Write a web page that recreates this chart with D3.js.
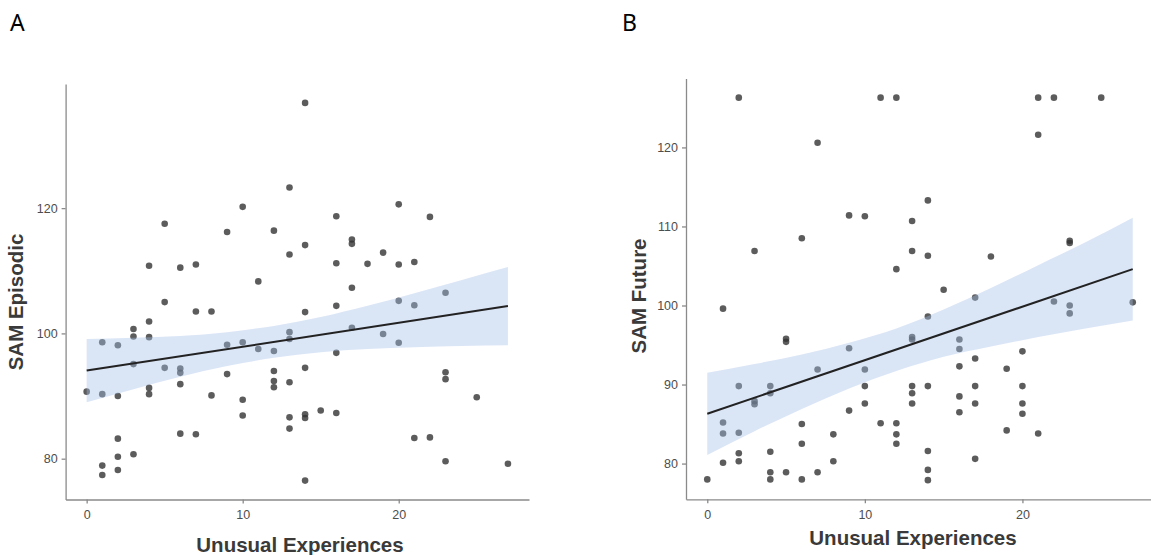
<!DOCTYPE html>
<html>
<head>
<meta charset="utf-8">
<script src="https://cdn.jsdelivr.net/npm/d3@7"></script>
<style>
  body { margin: 0; background: #fff; }
  svg { display: block; font-family: "Liberation Sans", Arial, sans-serif; }
  .axis path, .axis line { stroke: #8a8a8a; stroke-width: 1.3; }
  .axis text { fill: #4d4d4d; font-size: 12.5px; }
  .axis-title { fill: #3a3a3a; font-size: 20.5px; font-weight: bold; }
  .panel-tag { fill: #000; font-size: 23px; font-family: "Noto Sans", sans-serif; }
</style>
</head>
<body>
<div id="chart"></div>
<script>
// Unusual Experiences vs SAM scores, two panels

// panel A: [unusual experiences, SAM episodic]
const episodicPoints = [
  [0, 90.7],
  [1, 98.6], [1, 90.3], [1, 78.9], [1, 77.4],
  [2, 98.1], [2, 90.0], [2, 83.2], [2, 80.3], [2, 78.2],
  [3, 100.7], [3, 99.5], [3, 95.1], [3, 80.7],
  [4, 110.8], [4, 101.9], [4, 99.4], [4, 91.3], [4, 90.3],
  [5, 117.5], [5, 105.0], [5, 94.5],
  [6, 110.5], [6, 94.4], [6, 93.7], [6, 91.9], [6, 84.0],
  [7, 111.0], [7, 103.5], [7, 83.9],
  [8, 103.5], [8, 90.1],
  [9, 116.2], [9, 98.2], [9, 93.5],
  [10, 120.2], [10, 98.6], [10, 89.4], [10, 86.9],
  [11, 108.3], [11, 97.5],
  [12, 116.4], [12, 97.2], [12, 94.0], [12, 92.4], [12, 91.4],
  [13, 123.3], [13, 112.6], [13, 100.2], [13, 99.1], [13, 92.2], [13, 86.6], [13, 84.8],
  [14, 136.8], [14, 114.1], [14, 103.4], [14, 94.5], [14, 87.1], [14, 86.5], [14, 76.5],
  [15, 87.7],
  [16, 118.7], [16, 111.2], [16, 104.4], [16, 96.9], [16, 87.3],
  [17, 115.0], [17, 114.3], [17, 107.3], [17, 100.9],
  [18, 111.1],
  [19, 112.9], [19, 99.9],
  [20, 120.6], [20, 111.0], [20, 105.2], [20, 98.5],
  [21, 111.4], [21, 104.5], [21, 83.3],
  [22, 118.6], [22, 83.4],
  [23, 106.5], [23, 93.8], [23, 92.7], [23, 79.6],
  [25, 89.8],
  [27, 79.2]
];

// panel B: [unusual experiences, SAM future]
const futurePoints = [
  [0, 78.0],
  [1, 99.6], [1, 85.2], [1, 83.8], [1, 80.1],
  [2, 126.3], [2, 89.8], [2, 83.9], [2, 81.3], [2, 80.3],
  [3, 106.9], [3, 87.9], [3, 87.5],
  [4, 89.8], [4, 88.9], [4, 81.5], [4, 78.9], [4, 78.0],
  [5, 95.8], [5, 95.4], [5, 78.9],
  [6, 108.5], [6, 85.0], [6, 82.5], [6, 78.0],
  [7, 120.6], [7, 91.9], [7, 78.9],
  [8, 83.7], [8, 80.3],
  [9, 111.4], [9, 94.6], [9, 86.7],
  [10, 111.3], [10, 91.9], [10, 89.8], [10, 87.6],
  [11, 126.3], [11, 85.1],
  [12, 126.3], [12, 104.6], [12, 85.1], [12, 83.7], [12, 82.5],
  [13, 110.7], [13, 106.9], [13, 96.0], [13, 95.7], [13, 89.8], [13, 88.9], [13, 87.6],
  [14, 113.3], [14, 106.3], [14, 98.6], [14, 89.8], [14, 81.6], [14, 79.2], [14, 77.9],
  [15, 102.0],
  [16, 95.7], [16, 94.5], [16, 92.3], [16, 88.5], [16, 86.5],
  [17, 101.0], [17, 93.3], [17, 89.8], [17, 87.6], [17, 80.6],
  [18, 106.2],
  [19, 92.0], [19, 84.2],
  [20, 94.2], [20, 89.8], [20, 87.6], [20, 86.3],
  [21, 126.3], [21, 121.6], [21, 83.8],
  [22, 126.3], [22, 100.5],
  [23, 108.2], [23, 107.9], [23, 100.0], [23, 99.0],
  [25, 126.3],
  [27, 100.4]
];

// regression lines and confidence bands
const fitX = [0, 27];
const episodicFit = [94.07, 104.36];
const futureFit = [86.3, 104.6];

const bandX = [0, 3, 6, 9, 12, 15, 18, 21, 24, 27];
const episodicLower = [89.0, 91.1, 93.1, 94.8, 96.1, 97.0, 97.5, 97.8, 98.0, 98.1];
const episodicUpper = [99.1, 99.3, 99.6, 100.2, 101.2, 102.6, 104.4, 106.4, 108.5, 110.6];
const futureLower = [81.1, 84.1, 86.9, 89.5, 91.7, 93.5, 94.8, 96.0, 97.1, 98.1];
const futureUpper = [91.5, 92.6, 93.8, 95.3, 97.1, 99.5, 102.2, 105.1, 108.0, 111.1];

const xTicks = [0, 10, 20];
const episodicTicks = [80, 100, 120];
const futureTicks = [80, 90, 100, 110, 120];

const W = 1151, H = 555;

const svg = d3.select('#chart')
  .append('svg')
  .attr('width', W)
  .attr('height', H);

svg.append('rect').attr('width', W).attr('height', H).attr('fill', '#fff');

// ggplot style 5% padding on each side
function padded(values) {
  const [lo, hi] = d3.extent(values);
  const pad = (hi - lo) * 0.05;
  return [lo - pad, hi + pad];
}

function drawPanel(opts) {
  const x = d3.scaleLinear()
    .domain(padded(opts.points.map(d => d[0])))
    .range([opts.left, opts.right]);

  const y = d3.scaleLinear()
    .domain(padded(opts.points.map(d => d[1])))
    .range([opts.bottom, opts.top]);

  const g = svg.append('g');

  g.append('g')
    .selectAll('circle')
    .data(opts.points)
    .enter()
    .append('circle')
    .attr('cx', d => x(d[0]))
    .attr('cy', d => y(d[1]))
    .attr('r', 3.3)
    .attr('fill', '#333')
    .attr('fill-opacity', 0.8);

  const band = bandX.map((v, i) => ({ x: v, lo: opts.lower[i], hi: opts.upper[i] }));
  const area = d3.area()
    .x(d => x(d.x))
    .y0(d => y(d.lo))
    .y1(d => y(d.hi))
    .curve(d3.curveMonotoneX);

  g.append('path')
    .datum(band)
    .attr('d', area)
    .attr('fill', '#a2bee8')
    .attr('fill-opacity', 0.4);

  g.append('line')
    .attr('x1', x(fitX[0]))
    .attr('y1', y(opts.fit[0]))
    .attr('x2', x(fitX[1]))
    .attr('y2', y(opts.fit[1]))
    .attr('stroke', '#222')
    .attr('stroke-width', 2);

  g.append('g')
    .attr('class', 'axis')
    .attr('transform', `translate(0,${opts.bottom})`)
    .call(d3.axisBottom(x).tickValues(xTicks).tickSize(4).tickSizeOuter(0).tickPadding(7));

  g.append('g')
    .attr('class', 'axis')
    .attr('transform', `translate(${opts.left},0)`)
    .call(d3.axisLeft(y).tickValues(opts.yTicks).tickSize(4).tickSizeOuter(0).tickPadding(4));

  g.selectAll('.axis text').attr('font-family', '"Liberation Sans", Arial, sans-serif');

  g.append('text')
    .attr('class', 'axis-title')
    .attr('x', opts.xTitleX)
    .attr('y', opts.xTitleY)
    .attr('text-anchor', 'middle')
    .text('Unusual Experiences');

  g.append('text')
    .attr('class', 'axis-title')
    .attr('transform', `translate(${opts.yTitleX},${opts.yTitleY}) rotate(-90)`)
    .attr('text-anchor', 'middle')
    .text(opts.yTitle);

  g.append('text')
    .attr('class', 'panel-tag')
    .attr('x', opts.tagX)
    .attr('y', 31)
    .text(opts.tag);
}

drawPanel({
  points: episodicPoints, fit: episodicFit,
  lower: episodicLower, upper: episodicUpper,
  yTicks: episodicTicks, yTitle: 'SAM Episodic', tag: 'A',
  left: 65.6, right: 529, top: 84, bottom: 499.5,
  xTitleX: 300, xTitleY: 552, yTitleX: 23, yTitleY: 302, tagX: 10
});

drawPanel({
  points: futurePoints, fit: futureFit,
  lower: futureLower, upper: futureUpper,
  yTicks: futureTicks, yTitle: 'SAM Future', tag: 'B',
  left: 686, right: 1154, top: 78.5, bottom: 499.3,
  xTitleX: 913, xTitleY: 545, yTitleX: 646, yTitleY: 296, tagX: 622
});
</script>
</body>
</html>
